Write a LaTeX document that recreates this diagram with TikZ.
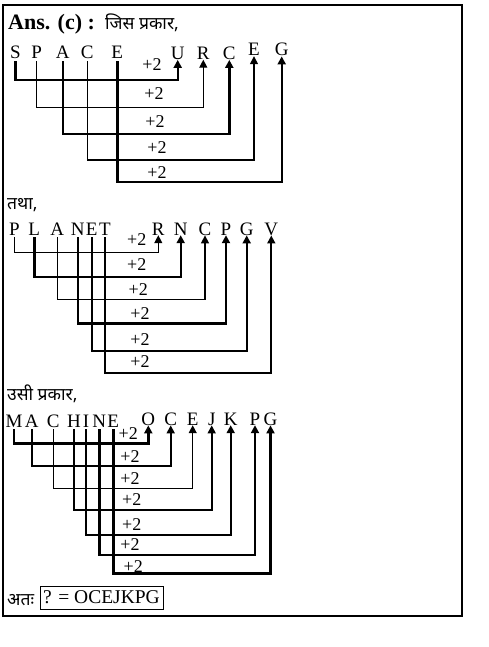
\documentclass[tikz,border=0pt]{standalone}
\usepackage{fontspec}
\setmainfont{Liberation Serif}
\newfontfamily\hindi[Script=Devanagari]{Noto Sans}
\usetikzlibrary{arrows.meta}
\tikzset{
  lt/.style={font=\fontsize{19}{21}\selectfont, inner sep=0pt, anchor=base},
  pl/.style={font=\fontsize{18}{20}\selectfont, inner sep=0pt, anchor=center},
  hd/.style={font=\hindi\fontsize{17.5}{20}\selectfont, inner sep=0pt, anchor=base west},
  conn/.style={-{Triangle[width=8pt,length=8pt]}, line width=#1, shorten <=2pt},
  conn/.default=2pt
}
\begin{document}
\begin{tikzpicture}[x=1pt,y=-1pt]
\useasboundingbox (0,0) rectangle (488,647);
\draw[line width=1.2pt] (3,5) rectangle (462,616);

% title
\node[anchor=base west, inner sep=0pt, font=\bfseries\fontsize{22}{24}\selectfont] (ans) at (8,29.5) {Ans. (c) :};
\node[hd] (jis) at (105,29.5) {जिस प्रकार,};

% ---------- diagram 1 ----------
\node[lt] (s1) at (15.5,59) {S};
\node[lt] (p1) at (36.7,59) {P};
\node[lt] (a1) at (62.7,59) {A};
\node[lt] (c1) at (87.3,59) {C};
\node[lt] (e1) at (117.3,59) {E};
\node[lt] (u1) at (177.7,59.5) {U};
\node[lt] (r1) at (203.3,59.5) {R};
\node[lt] (cc1) at (229.3,59.5) {C};
\node[lt] (ee1) at (254,56) {E};
\node[lt] (g1) at (281.7,56) {G};
\coordinate (h11) at (0,80);
\coordinate (h12) at (0,107.3);
\coordinate (h13) at (0,134);
\coordinate (h14) at (0,160);
\coordinate (h15) at (0,181.7);
\draw[conn=2.4pt] (s1.south) |- (h11 -| u1.south) -- (u1.south);
\draw[conn=1.2pt] (p1.south) |- (h12 -| r1.south) -- (r1.south);
\draw[conn=2.4pt] (a1.south) |- (h13 -| cc1.south) -- (cc1.south);
\draw[conn=1.4pt] (c1.south) |- (h14 -| ee1.south) -- (ee1.south);
\draw[conn=2.4pt] (e1.south) |- (h15 -| g1.south) -- (g1.south);
\node[pl] (k11) at (152,65) {+2};
\node[pl] (k12) at (154,94) {+2};
\node[pl] (k13) at (155,122) {+2};
\node[pl] (k14) at (157,148) {+2};
\node[pl] (k15) at (157,173) {+2};

% ---------- diagram 2 ----------
\node[hd] (tatha) at (7,209) {तथा,};
\node[lt] (p2) at (14.3,235) {P};
\node[lt] (l2) at (34.3,235) {L};
\node[lt] (a2) at (57.3,235) {A};
\node[lt] (n2) at (77.7,235) {N};
\node[lt] (e2) at (91.7,235) {E};
\node[lt] (t2) at (105,235) {T};
\node[lt] (r2) at (158.3,235) {R};
\node[lt] (nn2) at (180.7,235) {N};
\node[lt] (c2) at (205,235) {C};
\node[lt] (pp2) at (226,235) {P};
\node[lt] (g2) at (246.7,235) {G};
\node[lt] (v2) at (271.3,235) {V};
\coordinate (h21) at (0,252.3);
\coordinate (h22) at (0,277);
\coordinate (h23) at (0,299.5);
\coordinate (h24) at (0,323.3);
\coordinate (h25) at (0,350.7);
\coordinate (h26) at (0,373);
\draw[conn=1.2pt] (p2.south) |- (h21 -| r2.south) -- (r2.south);
\draw[conn=2.4pt] (l2.south) |- (h22 -| nn2.south) -- (nn2.south);
\draw[conn=1.4pt] (a2.south) |- (h23 -| c2.south) -- (c2.south);
\draw[conn=2.4pt] (n2.south) |- (h24 -| pp2.south) -- (pp2.south);
\draw[conn=2.4pt] (e2.south) |- (h25 -| g2.south) -- (g2.south);
\draw[conn=1.8pt] (t2.south) |- (h26 -| v2.south) -- (v2.south);
\node[pl] (k21) at (136.7,240) {+2};
\node[pl] (k22) at (136.7,265) {+2};
\node[pl] (k23) at (138.3,290) {+2};
\node[pl] (k24) at (140,313.3) {+2};
\node[pl] (k25) at (140,339.3) {+2};
\node[pl] (k26) at (140,361.7) {+2};

% ---------- diagram 3 ----------
\node[hd] (usi) at (7,400) {उसी प्रकार,};
\node[lt] (m3) at (14,427) {M};
\node[lt] (a3) at (31.7,427) {A};
\node[lt] (c3) at (53.3,427) {C};
\node[lt] (h3) at (74,427) {H};
\node[lt] (i3) at (86,427) {I};
\node[lt] (n3) at (99.3,427) {N};
\node[lt] (e3) at (113.3,427) {E};
\node[lt] (o3) at (148.3,425) {O};
\node[lt] (cc3) at (170.7,425) {C};
\node[lt] (ee3) at (192.7,425) {E};
\node[lt] (j3) at (211.7,425) {J};
\node[lt] (kk3) at (230.7,425) {K};
\node[lt] (p3) at (255,425) {P};
\node[lt] (g3) at (270.5,425) {G};
\coordinate (h31) at (0,443.3);
\coordinate (h32) at (0,466);
\coordinate (h33) at (0,488.3);
\coordinate (h34) at (0,510);
\coordinate (h35) at (0,535);
\coordinate (h36) at (0,555);
\coordinate (h37) at (0,573.3);
\draw[conn=2.4pt] (m3.south) |- (h31 -| o3.south) -- (o3.south);
\draw[conn=1.8pt] (a3.south) |- (h32 -| cc3.south) -- (cc3.south);
\draw[conn=1.2pt] (c3.south) |- (h33 -| ee3.south) -- (ee3.south);
\draw[conn=1.6pt] (h3.south) |- (h34 -| j3.south) -- (j3.south);
\draw[conn=2.4pt] (i3.south) |- (h35 -| kk3.south) -- (kk3.south);
\draw[conn=2.4pt] (n3.south) |- (h36 -| p3.south) -- (p3.south);
\draw[conn=2.4pt] (e3.south) |- (h37 -| g3.south) -- (g3.south);
\node[pl] (k31) at (128.3,433.3) {+2};
\node[pl] (k32) at (130,456.7) {+2};
\node[pl] (k33) at (130,478.3) {+2};
\node[pl] (k34) at (131.7,500) {+2};
\node[pl] (k35) at (131.7,525) {+2};
\node[pl] (k36) at (130,545) {+2};
\node[pl] (k37) at (133.3,566.7) {+2};

% ---------- answer ----------
\node[hd] (atah) at (7,605) {अतः};
\node[draw, line width=1pt, minimum width=123pt, minimum height=23pt, inner sep=0pt,
      font=\fontsize{19.5}{21}\selectfont] (res) at (101.5,597.5) {? = OCEJKPG};
\end{tikzpicture}
\end{document}
